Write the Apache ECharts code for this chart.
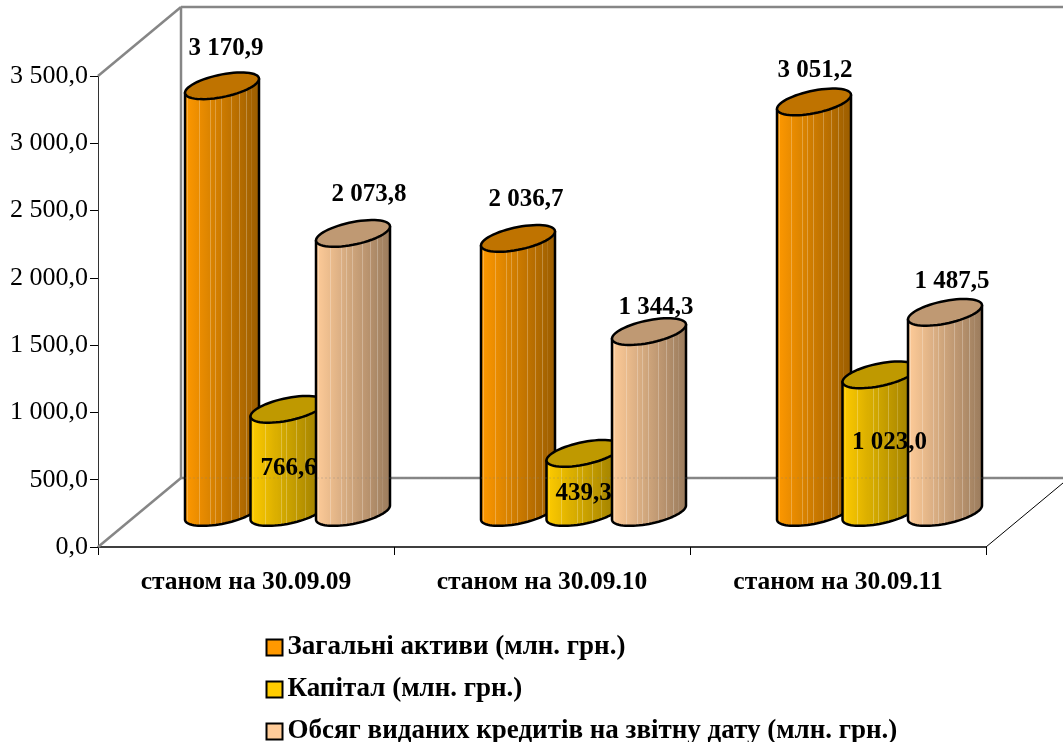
<!DOCTYPE html>
<html><head><meta charset="utf-8">
<style>html,body{margin:0;padding:0;background:#fff}#c{width:1063px;height:742px}</style>
<script src="https://cdn.jsdelivr.net/npm/echarts@6/dist/echarts.min.js"></script>
</head><body><div id="c"></div>
<script>
const categories = ['станом на 30.09.09','станом на 30.09.10','станом на 30.09.11'];
const assets = [3170.9, 2036.7, 3051.2];
const capital = [766.6, 439.3, 1023.0];
const loans = [2073.8, 1344.3, 1487.5];
const seriesNames = ['Загальні активи (млн. грн.)','Капітал (млн. грн.)','Обсяг виданих кредитів на звітну дату (млн. грн.)'];

// layout / style constants
const SERIF = '"Liberation Serif","Times New Roman",serif';
const DEPTH = [83, -69];      // front-to-back wall offset, px
const BAR_SHIFT = 65.5;       // horizontal distance between cylinders
const RX = 37, SKEW = 7, RY = 11.4;
const STRIPES = [0.05,0.21,0.35,0.42,0.49,0.62,0.73,0.82,0.88];
const LABEL_NUDGE = {
  assets: [[4,-37.5],[8,-38.5],[1,-31.5]],
  capital:[[1,null],[0,null],[10,null]],
  loans:  [[16,-38.5],[7,-24.5],[7,-30.5]]
};
const CAPITAL_LABEL_Y = [468.5, 493.5, 442.5];
const LEGEND_TOPS = [634, 676, 718];

function fmt(v){
  const s = v.toFixed(1).replace('.',',');
  const p = s.split(',');
  return p[0].replace(/\B(?=(\d{3})+$)/g,' ') + ',' + p[1];
}
function mix(a,b,t){return a.map((c,i)=>Math.round(c+(b[i]-c)*t));}
function rgb(c){return 'rgb('+c.join(',')+')';}
function gradient(light,dark){
  const stops=[];
  const base=t=>mix(light,dark,t);
  stops.push({offset:0,color:rgb(base(0))});
  STRIPES.forEach(s=>{
    const c=base(s);
    const hi=mix(c,[255,255,255],0.25);
    stops.push({offset:s-0.006,color:rgb(c)});
    stops.push({offset:s-0.005,color:rgb(hi)});
    stops.push({offset:s+0.005,color:rgb(hi)});
    stops.push({offset:s+0.006,color:rgb(c)});
  });
  stops.push({offset:1,color:rgb(base(1))});
  return {type:'linear',x:0,y:0,x2:1,y2:0,colorStops:stops};
}
function ellipse(cx,cy,from,to,n){
  const pts=[];
  for(let i=0;i<=n;i++){
    const t=from+(to-from)*i/n;
    pts.push([cx+RX*Math.cos(t), cy-SKEW*Math.cos(t)+RY*Math.sin(t)]);
  }
  return pts;
}
function cylinderSeries(idx,values,nudges,light,dark,cap,legendColor){
  return {
    type:'custom',name:seriesNames[idx],coordinateSystem:'cartesian2d',
    clip:false,z:3,
    itemStyle:{color:legendColor,borderColor:'#000',borderWidth:2},
    data:values.map((v,i)=>[i,v]),
    encode:{x:0,y:1},
    renderItem(params,api){
      const i=api.value(0),v=api.value(1);
      const base=api.coord([i,0]),top=api.coord([i,v]);
      const cx=base[0]+DEPTH[0]/2+(idx-1)*BAR_SHIFT;
      const by=base[1]+DEPTH[1]/2, ty=top[1]+DEPTH[1]/2;
      const side=[[cx-RX,ty+SKEW],[cx+RX,ty-SKEW]].concat(ellipse(cx,by,0,Math.PI,36));
      const n=nudges[i];
      const lx=cx+n[0];
      const ly=n[1]===null?CAPITAL_LABEL_Y[i]:ty+n[1];
      return {type:'group',children:[
        {type:'polygon',shape:{points:side},z2:idx*2+1,
         style:{fill:gradient(light,dark),stroke:'#000',lineWidth:2.5,lineJoin:'round'}},
        {type:'polygon',shape:{points:ellipse(cx,ty,0,Math.PI*2,60)},z2:idx*2+2,
         style:{fill:cap,stroke:'#000',lineWidth:2.5}},
        {type:'text',z2:50,style:{text:fmt(v),x:lx,y:ly,align:'center',verticalAlign:'middle',
         fill:'#000',font:'bold 25px '+SERIF}}
      ]};
    }
  };
}
const wallSeries = {
  type:'custom',name:'wall',coordinateSystem:'cartesian2d',clip:false,silent:true,z:3,
  data:[[0,0]],encode:{x:0,y:1},
  renderItem(params,api){
    const o=api.coord([0,0]), t=api.coord([0,3500]);
    const size=api.size([1,0]);
    const left=o[0]-size[0]/2, right=left+size[0]*3;
    const by=o[1], ty=t[1];
    const bx=left+DEPTH[0], fy=by+DEPTH[1], tty=ty+DEPTH[1];
    const grey={stroke:'#868686',lineWidth:2.5,fill:'none'};
    const ln=(a,b,c,d,s,z)=>({type:'line',z2:z||0,shape:{x1:a,y1:b,x2:c,y2:d},style:s});
    const edge=1063;
    return {type:'group',children:[
      ln(left,ty,bx,tty,grey),
      ln(left,by,bx,fy,grey),
      ln(bx,tty,bx,fy,grey),
      ln(bx,tty,edge,tty,grey),
      ln(bx,fy,edge,fy,grey),
      ln(bx,fy,edge,fy,{stroke:'#808080',lineWidth:1.5,opacity:0.22,lineDash:[2,2]},30),
      ln(right,by,right+DEPTH[0],by+DEPTH[1],{stroke:'#000',lineWidth:1})
    ]};
  }
};
const chart=echarts.init(document.getElementById('c'),null,{renderer:'canvas'});
chart.setOption({
  animation:false,backgroundColor:'#fff',
  grid:{left:98,right:77,top:76,bottom:195,containLabel:false},
  xAxis:{type:'category',data:categories,boundaryGap:true,
    axisLine:{lineStyle:{color:'#000',width:1.5}},
    axisTick:{show:true,length:8,alignWithLabel:false,lineStyle:{color:'#000'}},
    axisLabel:{margin:22,color:'#000',fontFamily:SERIF,fontWeight:'bold',fontSize:25.5,interval:0},
    splitLine:{show:false}},
  yAxis:{type:'value',min:0,max:3500,interval:500,
    axisLine:{show:true,lineStyle:{color:'#333',width:1}},
    axisTick:{show:true,length:8,lineStyle:{color:'#000'}},
    axisLabel:{margin:10,color:'#000',fontFamily:SERIF,fontSize:26,formatter:fmt},
    splitLine:{show:false}},
  legend:seriesNames.map((name,i)=>({data:[name],orient:'vertical',left:265.5,top:LEGEND_TOPS[i],padding:0,itemWidth:16,itemHeight:16,
    icon:'rect',selectedMode:false,
    itemStyle:{borderColor:'#000',borderWidth:2},
    textStyle:{color:'#000',fontFamily:SERIF,fontWeight:'bold',fontSize:27}})),
  series:[wallSeries,
    cylinderSeries(0,assets,LABEL_NUDGE.assets,[255,153,0],[153,92,0],'#BF7300','#FF9900'),
    cylinderSeries(1,capital,LABEL_NUDGE.capital,[255,204,0],[153,122,0],'#BF9900','#FFCC00'),
    cylinderSeries(2,loans,LABEL_NUDGE.loans,[255,204,153],[153,122,92],'#BF9973','#FFCC99')
  ]
});
</script></body></html>
